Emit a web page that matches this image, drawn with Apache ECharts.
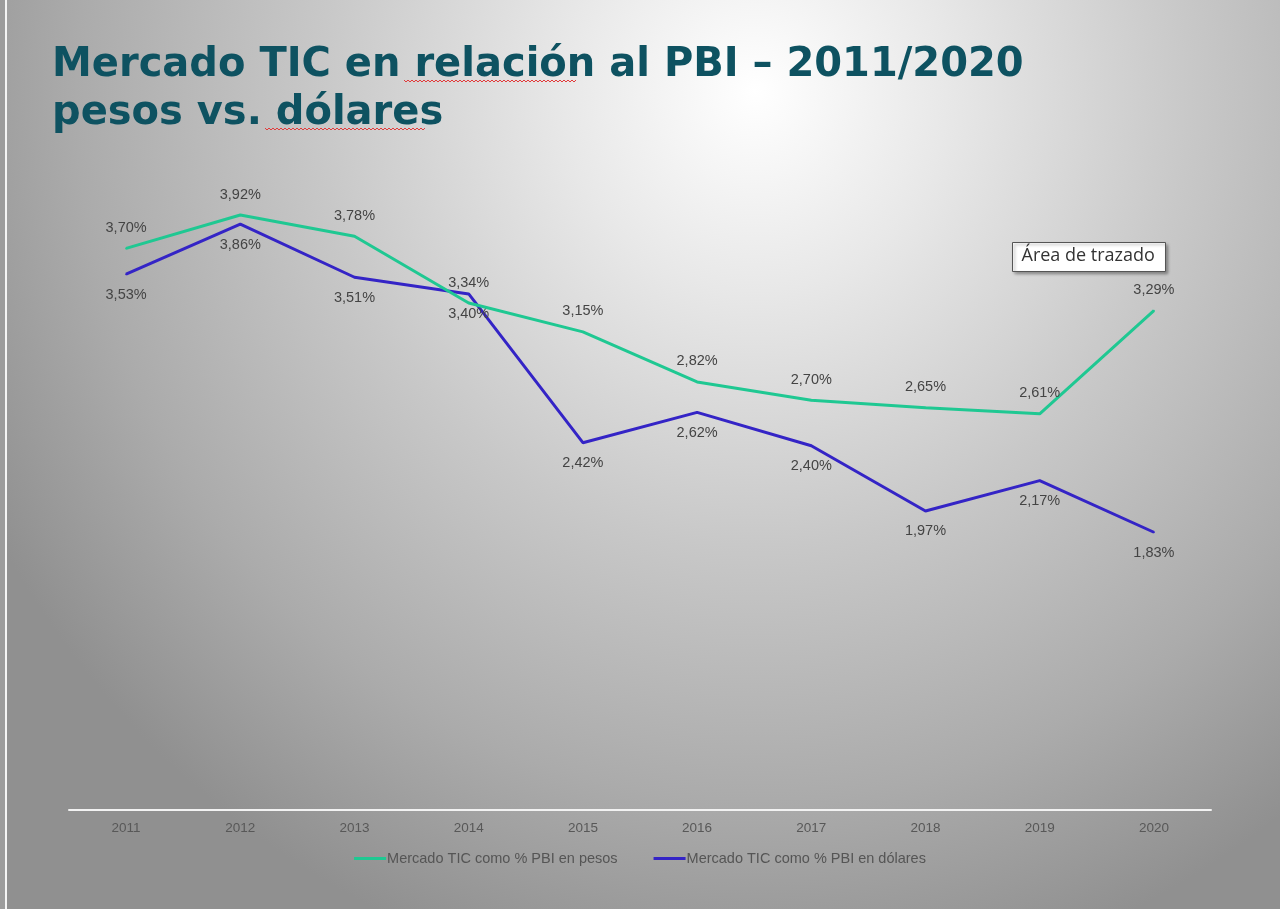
<!DOCTYPE html>
<html lang="es">
<head>
<meta charset="utf-8">
<title>Mercado TIC en relación al PBI</title>
<script src="https://cdn.jsdelivr.net/npm/echarts@6/dist/echarts.min.js"></script>
<style>
    html, body { margin: 0; padding: 0; width: 1280px; height: 909px; overflow: hidden; }
    body {
        background: radial-gradient(ellipse 68% 100% at 59% 10%, #ffffff 0%, #e8e8e8 22%, #c8c8c8 50%, #ababab 78%, #909090 100%);
    }
    #edge { position: absolute; left: 0; top: 0; width: 5px; height: 909px; background: #9c9c9c; border-right: 2px solid #f4f4f4; }
    #main { position: absolute; left: 0; top: 0; width: 1280px; height: 909px; }
</style>
</head>
<body>
<div id="edge"></div>
<div id="main"></div>
<script type="text/javascript">
    // datos
    var years = ['2011', '2012', '2013', '2014', '2015', '2016', '2017', '2018', '2019', '2020'];
    var pesos = [3.70, 3.92, 3.78, 3.34, 3.15, 2.82, 2.70, 2.65, 2.61, 3.29];
    var dolares = [3.53, 3.86, 3.51, 3.40, 2.42, 2.62, 2.40, 1.97, 2.17, 1.83];
    var seriesNames = ['Mercado TIC como % PBI en pesos', 'Mercado TIC como % PBI en dólares'];

    var verde = '#1fc892';
    var azul = '#3424c6';

    function pct(p) {
        return p.value.toFixed(2).replace('.', ',') + '%';
    }

    // subrayado ondulado del corrector
    function wavy(x0, x1, y) {
        var pts = [];
        for (var x = x0, i = 0; x <= x1; x += 2, i++) {
            pts.push([x, y + (i % 2 ? 2 : 0)]);
        }
        return pts;
    }

    var myChart = echarts.init(document.getElementById('main'));
    var option = {
        backgroundColor: 'transparent',
        textStyle: { fontFamily: 'Liberation Sans, Arial, sans-serif' },
        title: {
            text: 'Mercado TIC en relación al PBI – 2011/2020\npesos vs. dólares',
            left: 47,
            top: 37,
            textStyle: {
                fontFamily: 'DejaVu Sans, Verdana, sans-serif',
                fontWeight: 'bold',
                fontSize: 40,
                lineHeight: 48,
                color: '#0e5261'
            }
        },
        legend: {
            data: seriesNames,
            bottom: 38,
            left: 'center',
            itemWidth: 32,
            itemHeight: 3,
            itemGap: 36,
            icon: 'rect',
            textStyle: { color: '#555555', fontSize: 14.5, padding: [0, 0, 0, -4] }
        },
        grid: {
            left: 69,
            right: 69,
            top: 127,
            bottom: 99
        },
        xAxis: {
            type: 'category',
            data: years,
            boundaryGap: true,
            axisLine: { lineStyle: { color: '#f2f2f2', width: 2 } },
            axisTick: { show: false },
            axisLabel: { color: '#585858', fontSize: 13.5, margin: 11 }
        },
        yAxis: {
            type: 'value',
            min: 0,
            max: 4.5,
            show: false,
            splitLine: { show: false }
        },
        series: [
            {
                name: seriesNames[0],
                type: 'line',
                data: pesos,
                symbol: 'circle',
                symbolSize: 2,
                itemStyle: { color: verde },
                lineStyle: { color: verde, width: 3 },
                label: {
                    show: true,
                    position: 'top',
                    distance: 12,
                    formatter: pct,
                    color: '#444444',
                    fontSize: 14.5
                },
                z: 3
            },
            {
                name: seriesNames[1],
                type: 'line',
                data: dolares,
                symbol: 'circle',
                symbolSize: 2,
                itemStyle: { color: azul },
                lineStyle: { color: azul, width: 3 },
                label: {
                    show: true,
                    position: 'bottom',
                    distance: 12,
                    formatter: pct,
                    color: '#444444',
                    fontSize: 14.5
                },
                z: 2
            }
        ],
        graphic: [
            {
                type: 'polyline',
                shape: { points: wavy(404, 577, 80) },
                style: { stroke: '#e23a3a', lineWidth: 1, fill: null }
            },
            {
                type: 'polyline',
                shape: { points: wavy(265, 426, 128) },
                style: { stroke: '#e23a3a', lineWidth: 1, fill: null }
            },
            {
                // cuadro "Área de trazado"
                type: 'group',
                left: 1012,
                top: 242,
                children: [
                    {
                        type: 'rect',
                        shape: { x: 0, y: 0, width: 153, height: 29 },
                        style: {
                            fill: '#ffffff',
                            stroke: '#555555',
                            lineWidth: 1,
                            shadowBlur: 3,
                            shadowOffsetX: 2,
                            shadowOffsetY: 2,
                            shadowColor: 'rgba(0,0,0,0.35)'
                        }
                    },
                    {
                        type: 'text',
                        x: 9,
                        y: 4,
                        style: {
                            text: 'Área de trazado',
                            font: '18px "Open Sans", "Noto Sans", sans-serif',
                            fill: '#333333'
                        }
                    }
                ]
            }
        ]
    };
    myChart.setOption(option);
</script>
</body>
</html>
